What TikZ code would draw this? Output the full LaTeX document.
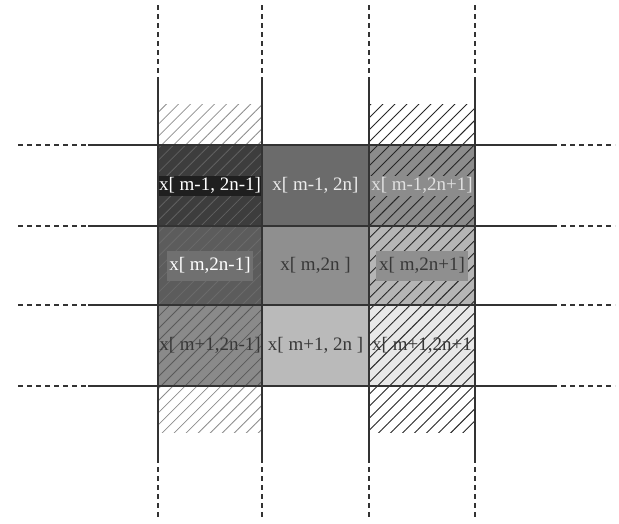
\documentclass[tikz,border=0pt]{standalone}
\usepackage{fontspec}
\setmainfont{Liberation Serif}
\usetikzlibrary{patterns.meta}
\definecolor{gridc}{HTML}{333333}
\tikzset{
  cell/.style={draw=none, inner sep=0pt, outer sep=0pt},
  lbl/.style={inner sep=1pt, font=\fontsize{19}{21}\selectfont, text height=14pt, text depth=4pt},
  hatchdark/.style={pattern={Lines[angle=45,distance=8.5pt,line width=0.9pt]}, pattern color=black!85},
  hatchgrey/.style={pattern={Lines[angle=45,distance=8.5pt,line width=0.8pt]}, pattern color=black!45},
  gline/.style={draw=gridc, line width=1.3pt},
  dline/.style={draw=gridc, line width=1.1pt, dash pattern=on 5pt off 4pt},
}
\begin{document}
\begin{tikzpicture}[x=1pt,y=-1pt]
\useasboundingbox (0,0) rectangle (619,523);
% cells
\node[cell, fill=black!76, minimum width=104pt, minimum height=81pt] (c11) at (210,185.5) {};
\node[cell, fill=black!58, minimum width=107pt, minimum height=81pt] (c12) at (315.5,185.5) {};
\node[cell, fill=black!45, minimum width=106pt, minimum height=81pt] (c13) at (422,185.5) {};
\node[cell, fill=black!64, minimum width=104pt, minimum height=79pt] (c21) at (210,265.5) {};
\node[cell, fill=black!44, minimum width=107pt, minimum height=79pt] (c22) at (315.5,265.5) {};
\node[cell, fill=black!29, minimum width=106pt, minimum height=79pt] (c23) at (422,265.5) {};
\node[cell, fill=black!46, minimum width=104pt, minimum height=81pt] (c31) at (210,345.5) {};
\node[cell, fill=black!27, minimum width=107pt, minimum height=81pt] (c32) at (315.5,345.5) {};
\node[cell, fill=black!9, minimum width=106pt, minimum height=81pt] (c33) at (422,345.5) {};
% hatched outer cells
\node[cell, minimum width=104pt, minimum height=41pt] (t1) at (210,124.5) {};
\node[cell, minimum width=106pt, minimum height=41pt] (t3) at (422,124.5) {};
\node[cell, minimum width=104pt, minimum height=46pt] (b1) at (210,409) {};
\node[cell, minimum width=106pt, minimum height=46pt] (b3) at (422,409) {};
% hatching
\path[pattern={Lines[angle=45,distance=8.5pt,line width=0.8pt]}, pattern color=black!62] (c11.north west) rectangle (c11.south east);
\path[pattern={Lines[angle=45,distance=8.5pt,line width=0.8pt]}, pattern color=black!58] (c21.north west) rectangle (c21.south east);
\path[pattern={Lines[angle=45,distance=8.5pt,line width=0.8pt]}, pattern color=black!65] (c31.north west) rectangle (c31.south east);
\path[hatchdark] (c13.north west) rectangle (c13.south east);
\path[hatchdark] (c23.north west) rectangle (c23.south east);
\path[hatchdark] (c33.north west) rectangle (c33.south east);
\path[hatchgrey] (t1.north west) rectangle (t1.south east);
\path[hatchgrey] (b1.north west) rectangle (b1.south east);
\path[hatchdark] (t3.north west) rectangle (t3.south east);
\path[hatchdark] (b3.north west) rectangle (b3.south east);
% labels
\node[lbl, fill=black!88, text=white, minimum width=102pt] (l11) at (c11) {x[ m-1, 2n-1]};
\node[lbl, text=white!92!black] (l12) at (c12) {x[ m-1, 2n]};
\node[lbl, fill=black!45, text=white!88!black] (l13) at (c13) {x[ m-1,2n+1]};
\node[lbl, fill=black!56, text=white, minimum width=86pt, minimum height=30pt] (l21) at (c21) {x[ m,2n-1]};
\node[lbl, text=black!78] (l22) at (c22) {x[ m,2n ]};
\node[lbl, fill=black!44, text=black!78, minimum width=92pt, minimum height=30pt] (l23) at (c23) {x[ m,2n+1]};
\node[lbl, text=black!78] (l31) at (c31) {x[ m+1,2n-1]};
\node[lbl, text=black!78] (l32) at (c32) {x[ m+1, 2n ]};
\node[lbl, text=black!78] (l33) at (c33) {x[ m+1,2n+1};
% grid coordinates
\coordinate (v1t) at (158,5);  \coordinate (v1a) at (158,78);  \coordinate (v1b) at (158,458); \coordinate (v1e) at (158,520);
\coordinate (v2t) at (262,5);  \coordinate (v2a) at (262,78);  \coordinate (v2b) at (262,458); \coordinate (v2e) at (262,520);
\coordinate (v3t) at (369,5);  \coordinate (v3a) at (369,78);  \coordinate (v3b) at (369,458); \coordinate (v3e) at (369,520);
\coordinate (v4t) at (475,5);  \coordinate (v4a) at (475,78);  \coordinate (v4b) at (475,458); \coordinate (v4e) at (475,520);
\foreach \i/\y in {1/145,2/226,3/305,4/386}{
  \coordinate (h\i l) at (18,\y); \coordinate (h\i a) at (88,\y);
  \coordinate (h\i b) at (552,\y); \coordinate (h\i r) at (615,\y);
}
% grid lines
\foreach \i in {1,2,3,4}{
  \draw[dline] (v\i t) -- (v\i a);
  \draw[gline] (v\i a) -- (v\i b);
  \draw[dline] (v\i b) -- (v\i e);
  \draw[dline] (h\i l) -- (h\i a);
  \draw[gline] (h\i a) -- (h\i b);
  \draw[dline] (h\i b) -- (h\i r);
}
\end{tikzpicture}
\end{document}
